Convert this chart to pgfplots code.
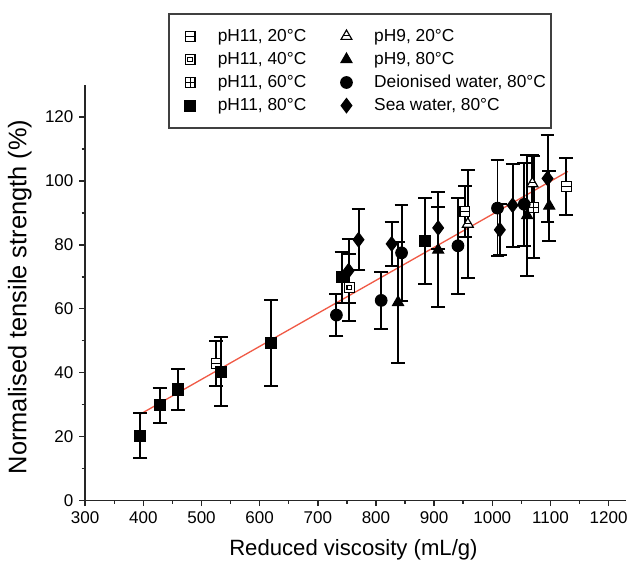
\documentclass[border=0pt]{standalone}
\usepackage{fontspec}
\setmainfont{Liberation Sans}
\usepackage{pgfplots}
\pgfplotsset{compat=1.18}

\pgfdeclareplotmark{sqh}{%
  \pgfpathrectangle{\pgfqpoint{-\pgfplotmarksize}{-\pgfplotmarksize}}{\pgfqpoint{2\pgfplotmarksize}{2\pgfplotmarksize}}%
  \pgfusepathqfillstroke
  \pgfpathmoveto{\pgfqpoint{-\pgfplotmarksize}{0pt}}%
  \pgfpathlineto{\pgfqpoint{\pgfplotmarksize}{0pt}}%
  \pgfusepathqstroke}
\pgfdeclareplotmark{sqplus}{%
  \pgfpathrectangle{\pgfqpoint{-\pgfplotmarksize}{-\pgfplotmarksize}}{\pgfqpoint{2\pgfplotmarksize}{2\pgfplotmarksize}}%
  \pgfusepathqfillstroke
  \pgfpathmoveto{\pgfqpoint{-\pgfplotmarksize}{0pt}}%
  \pgfpathlineto{\pgfqpoint{\pgfplotmarksize}{0pt}}%
  \pgfpathmoveto{\pgfqpoint{0pt}{-\pgfplotmarksize}}%
  \pgfpathlineto{\pgfqpoint{0pt}{\pgfplotmarksize}}%
  \pgfusepathqstroke}
\pgfdeclareplotmark{sqdot}{%
  \pgfpathrectangle{\pgfqpoint{-\pgfplotmarksize}{-\pgfplotmarksize}}{\pgfqpoint{2\pgfplotmarksize}{2\pgfplotmarksize}}%
  \pgfusepathqfillstroke
  \pgfpathrectangle{\pgfqpoint{-.45\pgfplotmarksize}{-.45\pgfplotmarksize}}{\pgfqpoint{.9\pgfplotmarksize}{.9\pgfplotmarksize}}%
  \pgfusepathqstroke}
\pgfdeclareplotmark{trih}{%
  \pgfpathmoveto{\pgfqpoint{0pt}{\pgfplotmarksize}}%
  \pgfpathlineto{\pgfqpoint{-.866\pgfplotmarksize}{-.5\pgfplotmarksize}}%
  \pgfpathlineto{\pgfqpoint{.866\pgfplotmarksize}{-.5\pgfplotmarksize}}%
  \pgfpathclose
  \pgfusepathqfillstroke
  \pgfpathmoveto{\pgfqpoint{-.5\pgfplotmarksize}{.1\pgfplotmarksize}}%
  \pgfpathlineto{\pgfqpoint{.5\pgfplotmarksize}{.1\pgfplotmarksize}}%
  \pgfusepathqstroke}

\pgfplotstableread{
x y e
525 42.8 7
953 90.5 8
1127 98.3 9
}\phAtwenty
\pgfplotstableread{
x y e
754 66.7 10.5
}\phAforty
\pgfplotstableread{
x y e
1071 91.8 16
}\phAsixty
\pgfplotstableread{
x y e
395 20.2 7
428 29.8 5.5
460 34.7 6.5
533 40.3 10.8
620 49.3 13.5
741 69.8 8
885 81.2 13.5
}\phAeighty
\pgfplotstableread{
x y e
958 86.5 17
1069 99.2 9
}\phBtwenty
\pgfplotstableread{
x y e
838 62.0 19
907 78.4 18
1060 89.2 19
1098 92.2 11
}\phBeighty
\pgfplotstableread{
x y e
732 58.0 6.5
809 62.6 9
844 77.5 15
941 79.7 15
1009 91.5 15
1055 92.7 13
}\diwater
\pgfplotstableread{
x y e
753 71.9 10
770 81.6 9.5
827 80.3 7
907 85.3 6.5
1013 84.7 8
1035 92.4 13
1095 100.8 13.5
}\seawater

\pgfplotsset{
  eb/.style={only marks, black,
    error bars/y dir=both, error bars/y explicit,
    error bars/error bar style={line width=1.2pt, black},
    error bars/error mark options={rotate=90, mark size=4.2pt, line width=1.2pt, black}},
}

\begin{document}
\begin{tikzpicture}
\begin{axis}[
  scale only axis,
  width=327.6pt, height=251.4pt,
  xmin=300, xmax=1230, ymin=0, ymax=130,
  axis lines*=left,
  axis line style={-, line width=0.9pt, black!85},
  xtick={300,400,...,1200},
  ytick={0,20,...,120},
  minor x tick num=1, minor y tick num=1,
  tick align=outside,
  major tick length=3.6pt, minor tick length=2.2pt,
  tick style={line width=0.9pt, black!85},
  /pgf/number format/assume math mode=true,
  /pgf/number format/1000 sep={},
  ticklabel style={font=\fontsize{10.3}{12}\selectfont},
  xlabel={Reduced viscosity (mL/g)},
  ylabel={Normalised tensile strength (\%)},
  xlabel style={at={(axis description cs:0.496,-0.119)}, anchor=center, font=\fontsize{13.4}{16}\selectfont},
  ylabel style={at={(axis description cs:-0.121,0.49)}, anchor=center, font=\fontsize{15.4}{17}\selectfont},
  clip=false,
  legend columns=4,
  transpose legend,
  legend cell align=left,
  legend image code/.code={\path[draw=none] (-11.5pt,0pt) -- (15pt,0pt); \draw[#1] plot coordinates {(0pt,0pt)};},
  legend style={at={(axis description cs:0.154,1.174)}, anchor=north west,
    draw=black!75, line width=1.2pt, fill=white,
    font=\fontsize{10.5}{12}\selectfont,
    inner xsep=1pt, inner ysep=6.5pt,
    /tikz/column sep=0pt,
    nodes={inner sep=1.8pt, text height=8.2pt, text depth=2.2pt}},
]
\path[draw=none] (axis description cs:-0.1575,-0.1623) rectangle (axis description cs:1.0018,1.2053);
\addplot[forget plot, color={rgb,255:red,240;green,90;blue,70}, line width=0.8pt] coordinates {(395,27) (1130,103)};

\addplot[eb, mark=sqh, mark size=3pt, mark options={black, fill=white, line width=0.7pt}] table[x=x,y=y,y error=e] {\phAtwenty};
\addlegendentry{pH11, 20°C\hspace{11pt}\null}
\addplot[eb, mark=sqdot, mark size=3pt, mark options={black, fill=white, line width=0.7pt}] table[x=x,y=y,y error=e] {\phAforty};
\addlegendentry{pH11, 40°C\hspace{11pt}\null}
\addplot[eb, mark=sqplus, mark size=3pt, mark options={black, fill=white, line width=0.7pt}] table[x=x,y=y,y error=e] {\phAsixty};
\addlegendentry{pH11, 60°C\hspace{11pt}\null}
\addplot[eb, mark=square*, mark size=3.3pt, mark options={black, fill=black, line width=0.7pt}] table[x=x,y=y,y error=e] {\phAeighty};
\addlegendentry{pH11, 80°C\hspace{11pt}\null}
\addplot[eb, mark=trih, mark size=3.8pt, mark options={black, fill=white, line width=0.7pt}] table[x=x,y=y,y error=e] {\phBtwenty};
\addlegendentry{pH9, 20°C}
\addplot[eb, mark=triangle*, mark size=3.8pt, mark options={black, fill=black, line width=0.7pt}] table[x=x,y=y,y error=e] {\phBeighty};
\addlegendentry{pH9, 80°C}
\addplot[eb, mark=*, mark size=3.5pt, mark options={black, fill=black, line width=0.7pt}] table[x=x,y=y,y error=e] {\diwater};
\addlegendentry{Deionised water, 80°C}
\addplot[eb, mark=diamond*, mark size=4.3pt, mark options={black, fill=black, line width=0.7pt}] table[x=x,y=y,y error=e] {\seawater};
\addlegendentry{Sea water, 80°C}
\end{axis}
\end{tikzpicture}
\end{document}
